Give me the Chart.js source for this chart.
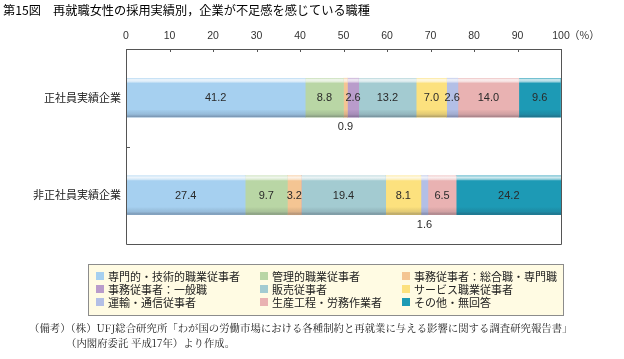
<!DOCTYPE html>
<html><head><meta charset="utf-8">
<script src="https://cdn.jsdelivr.net/npm/chart.js@4.4.1/dist/chart.umd.min.js"></script>
<style>
html,body{margin:0;padding:0;background:#fff;}
#wrap{position:relative;width:624px;height:359px;overflow:hidden;font-family:"Noto Sans CJK JP","Noto Sans",sans-serif;color:#222;}
#c{position:absolute;left:0;top:0;}
#title{position:absolute;left:3px;top:2px;font-size:12.2px;line-height:16px;white-space:nowrap;font-weight:normal;color:#000;}
#legend{position:absolute;left:88px;top:264px;width:476px;height:52px;background:#fffbe3;border:1px solid #8c8c8c;box-sizing:border-box;}
.li{position:absolute;font-size:11px;line-height:12px;white-space:nowrap;}
.sw{position:absolute;width:8px;height:8px;top:2px;left:0;}
.lt{position:absolute;left:12px;top:0;}
#note{position:absolute;left:29px;top:320px;font-family:"Noto Serif CJK JP","IPAMincho","DejaVu Serif",serif;font-size:10.4px;line-height:15px;white-space:nowrap;color:#222;}
#note .l2{padding-left:37px;}
</style>
</head><body>
<div id="wrap">
<canvas id="c" width="624" height="359"></canvas>
<div id="title">第15図　再就職女性の採用実績別，企業が不足感を感じている職種</div>
<div id="legend"></div>
<div id="note"><div>（備考）（株）UFJ総合研究所「わが国の労働市場における各種制約と再就業に与える影響に関する調査研究報告書」</div><div class="l2">（内閣府委託 平成17年）より作成。</div></div>
</div>
<script>
// ---- data ----
const categories = ['正社員実績企業', '非正社員実績企業'];
const seriesNames = ['専門的・技術的職業従事者', '管理的職業従事者', '事務従事者：総合職・専門職',
  '事務従事者：一般職', '販売従事者', 'サービス職業従事者', '運輸・通信従事者', '生産工程・労務作業者', 'その他・無回答'];
const professional    = [41.2, 27.4];
const managerial      = [8.8, 9.7];
const clericalCareer  = [0.9, 3.2];
const clericalGeneral = [2.6, 0];
const sales           = [13.2, 19.4];
const service         = [7.0, 8.1];
const transport       = [2.6, 1.6];
const production      = [14.0, 6.5];
const other           = [9.6, 24.2];
const xTickValues = [0, 10, 20, 30, 40, 50, 60, 70, 80, 90, 100];
const seriesColors = ['#a6d0f0', '#b9d6a5', '#f4c593', '#b99ccb', '#a3cbd1', '#fce17e', '#b3bfe6', '#e9b2b2', '#1d9ab5'];
const seriesValues = [professional, managerial, clericalCareer, clericalGeneral, sales, service, transport, production, other];

// ---- legend (HTML, real text) ----
const legendEl = document.getElementById('legend');
const colX = [7, 171, 313];
const rowY = [5, 18, 31];
seriesNames.forEach((n, i) => {
  const d = document.createElement('div');
  d.className = 'li';
  d.style.left = colX[i % 3] + 'px';
  d.style.top = rowY[Math.floor(i / 3)] + 'px';
  d.innerHTML = '<span class="sw" style="background:' + seriesColors[i] + '"></span><span class="lt">' + n + '</span>';
  legendEl.appendChild(d);
});

// ---- plugins ----
const barShade = {
  id: 'barShade',
  afterDatasetsDraw(chart) {
    const ctx = chart.ctx;
    chart.data.datasets.forEach((ds, di) => {
      const meta = chart.getDatasetMeta(di);
      meta.data.forEach((el) => {
        const p = el.getProps(['x', 'y', 'base', 'height'], true);
        const left = Math.min(p.x, p.base), w = Math.abs(p.x - p.base);
        if (w <= 0) return;
        const top = p.y - p.height / 2, h = p.height;
        const g = ctx.createLinearGradient(0, top, 0, top + h);
        g.addColorStop(0, 'rgba(255,255,255,0.45)');
        g.addColorStop(0.04, 'rgba(255,255,255,0.8)');
        g.addColorStop(0.09, 'rgba(255,255,255,0.55)');
        g.addColorStop(0.13, 'rgba(255,255,255,0.0)');
        g.addColorStop(0.8, 'rgba(0,0,0,0.0)');
        g.addColorStop(0.92, 'rgba(40,40,60,0.12)');
        g.addColorStop(1, 'rgba(40,40,60,0.38)');
        ctx.save();
        ctx.fillStyle = g;
        ctx.fillRect(left, top, w, h);
        ctx.restore();
      });
    });
  }
};
const valueLabels = {
  id: 'valueLabels',
  afterDatasetsDraw(chart) {
    const ctx = chart.ctx;
    ctx.save();
    ctx.font = '11px "Liberation Sans", Arial, sans-serif';
    ctx.fillStyle = '#2a2a2a';
    ctx.textAlign = 'center';
    ctx.textBaseline = 'middle';
    chart.data.datasets.forEach((ds, di) => {
      const meta = chart.getDatasetMeta(di);
      meta.data.forEach((el, i) => {
        const v = ds.data[i];
        if (!v) return;
        const p = el.getProps(['x', 'y', 'base', 'height'], true);
        const cx = (p.x + p.base) / 2;
        const t = v.toFixed(1);
        if (v < 2) ctx.fillText(t, cx, p.y + p.height / 2 + 10);
        else ctx.fillText(t, cx, p.y + 0.5);
      });
    });
    ctx.restore();
  }
};
const frame = {
  id: 'frame',
  afterDraw(chart) {
    const {ctx, chartArea: a, scales} = chart;
    ctx.save();
    ctx.strokeStyle = '#555';
    ctx.lineWidth = 1;
    ctx.beginPath();
    ctx.rect(Math.round(a.left) + 0.5, Math.round(a.top) + 0.5, Math.round(a.right - a.left), Math.round(a.bottom - a.top));
    scales.x.ticks.forEach(t => {
      const x = Math.round(scales.x.getPixelForValue(t.value)) + 0.5;
      ctx.moveTo(x, a.top); ctx.lineTo(x, a.top + 3);
    });
    for (let i = 1; i < categories.length; i++) {
      const y = Math.round((scales.y.getPixelForValue(i - 1) + scales.y.getPixelForValue(i)) / 2) + 0.5;
      ctx.moveTo(a.left, y); ctx.lineTo(a.left + 4, y);
    }
    ctx.stroke();
    ctx.font = '10.5px "Noto Sans CJK JP", sans-serif';
    ctx.fillStyle = '#333';
    ctx.textBaseline = 'middle';
    ctx.textAlign = 'left';
    const xl = scales.x.getPixelForValue(100);
    ctx.fillText('（%）', xl + 8, 35);
    ctx.restore();
  }
};

new Chart(document.getElementById('c'), {
  type: 'bar',
  data: {
    labels: categories,
    datasets: seriesNames.map((n, i) => ({
      label: n,
      data: seriesValues[i],
      backgroundColor: seriesColors[i],
      borderWidth: 0,
      barThickness: 39
    }))
  },
  options: {
    indexAxis: 'y',
    responsive: false,
    animation: false,
    layout: {padding: {left: 0, top: 0, right: 63, bottom: 115}},
    plugins: {legend: {display: false}, tooltip: {enabled: false}},
    scales: {
      x: {
        position: 'top', stacked: true, min: 0, max: 100,
        afterFit(s) { s.height = 49; },
        afterBuildTicks(s) { s.ticks = xTickValues.map(v => ({value: v})); },
        grid: {display: false, drawTicks: false},
        border: {display: false},
        ticks: {padding: 7, color: '#333', maxRotation: 0, font: {family: '"Liberation Sans", Arial, sans-serif', size: 10.5}}
      },
      y: {
        stacked: true,
        afterFit(s) { s.width = 126; },
        grid: {display: false, drawTicks: false},
        border: {display: false},
        ticks: {padding: 5, color: '#222', font: {family: '"Noto Sans CJK JP", sans-serif', size: 11}}
      }
    }
  },
  plugins: [barShade, valueLabels, frame]
});
</script>
</body></html>
